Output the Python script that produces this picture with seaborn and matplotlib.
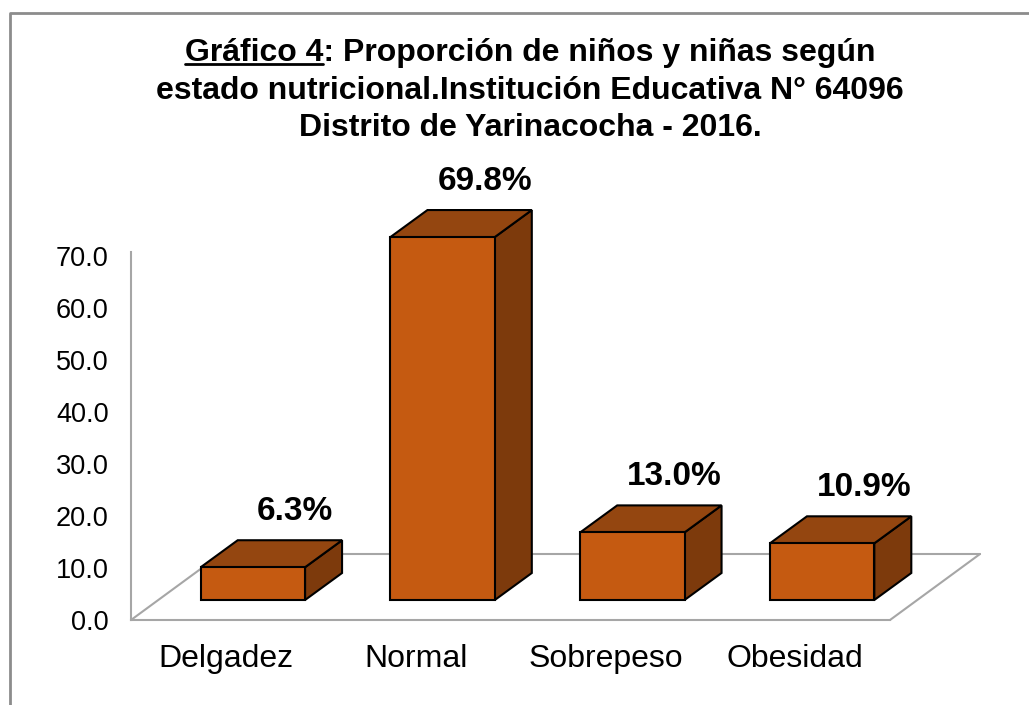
import matplotlib
matplotlib.use("Agg")
import matplotlib.pyplot as plt
from matplotlib.patches import Polygon
from matplotlib.lines import Line2D
from matplotlib.transforms import IdentityTransform
import seaborn as sns
import pandas as pd

# data
categories = ["Delgadez", "Normal", "Sobrepeso", "Obesidad"]
values = [6.3, 69.8, 13.0, 10.9]
labels = ["6.3%", "69.8%", "13.0%", "10.9%"]
yticks = [0, 10, 20, 30, 40, 50, 60, 70]
title_lines = ["Gráfico 4: Proporción de niños y niñas según",
               "estado nutricional.Institución Educativa N° 64096",
               "Distrito de Yarinacocha - 2016."]
underlined = "Gráfico 4"

front_col = "#C55A11"
top_col = "#944610"
side_col = "#7D3A0C"
floor_col = "#a6a6a6"

sns.set_style("white")
plt.rcParams["font.family"] = ["Liberation Sans", "DejaVu Sans"]
plt.rcParams["text.color"] = "black"
plt.rcParams["xtick.color"] = "black"
plt.rcParams["ytick.color"] = "black"

W, H, DPI = 1029, 705, 100
fig = plt.figure(figsize=(W / DPI, H / DPI), dpi=DPI)
ax = fig.add_axes([131 / W, (H - 620) / H, (890 - 131) / W, (620 - 252) / H])

df = pd.DataFrame({"cat": categories, "val": values})
sns.barplot(data=df, x="cat", y="val", color=front_col, width=0.55,
            edgecolor="black", linewidth=1.5, saturation=1, ax=ax, zorder=5)

ax.set_xlim(-0.5, 3.5)
ax.set_ylim(0, 368 / 5.2)
ax.set_yticks(yticks)
ax.set_yticklabels([f"{t:.1f}" for t in yticks], fontsize=19.5)
ax.set_xticks(range(len(categories)))
ax.set_xticklabels(categories, fontsize=23)
ax.tick_params(axis="y", length=0, pad=16)
ax.tick_params(axis="x", length=0, pad=17)
ax.set_xlabel("")
ax.set_ylabel("")
for s in ["top", "right"]:
    ax.spines[s].set_visible(False)
for s in ["left", "bottom"]:
    ax.spines[s].set_color(floor_col)
    ax.spines[s].set_linewidth(1.5)
ax.patch.set_visible(False)

ident = IdentityTransform()
# pixel offsets (display coords, y up)
plane = (27, 20)    # bar front plane behind floor front edge
depth = (37, 27)    # bar depth
floor = (90, 66)    # full floor depth

# floor outline
x0d, y0d = ax.transData.transform((-0.5, 0))
x1d, _ = ax.transData.transform((3.5, 0))
for seg in [[(x0d, y0d), (x0d + floor[0], y0d + floor[1])],
            [(x0d + floor[0], y0d + floor[1]), (x1d + floor[0], y0d + floor[1])],
            [(x1d + floor[0], y0d + floor[1]), (x1d, y0d)]]:
    fig.add_artist(Line2D([p[0] for p in seg], [p[1] for p in seg], transform=ident,
                          color=floor_col, lw=1.5, zorder=1))

# bars: shift fronts, add top and side faces
for i, bar in enumerate(ax.patches):
    bx, bw, bh = bar.get_x(), bar.get_width(), bar.get_height()
    (lx, by) = ax.transData.transform((bx, 0))
    (rx, ty) = ax.transData.transform((bx + bw, bh))
    lx, rx = lx + plane[0], rx + plane[0]
    by, ty = by + plane[1], ty + plane[1]
    bar.remove()
    front = Polygon([(lx, by), (rx, by), (rx, ty), (lx, ty)], closed=True, transform=ident,
                    facecolor=front_col, edgecolor="black", lw=1.5, zorder=6)
    top = Polygon([(lx, ty), (rx, ty), (rx + depth[0], ty + depth[1]), (lx + depth[0], ty + depth[1])],
                  closed=True, transform=ident, facecolor=top_col, edgecolor="black", lw=1.5, zorder=5)
    side = Polygon([(rx, by), (rx + depth[0], by + depth[1]), (rx + depth[0], ty + depth[1]), (rx, ty)],
                   closed=True, transform=ident, facecolor=side_col, edgecolor="black", lw=1.5, zorder=5)
    for p in (side, top, front):
        fig.add_artist(p)
    fig.text((lx + rx) / 2 + 42, ty + 56, labels[i], transform=ident, ha="center", va="center",
             fontsize=24, fontweight="bold", zorder=7)

# outer frame
fig.add_artist(Line2D([10, 10, W], [0, H - 13, H - 13], transform=ident, color="#8c8c8c", lw=2))

# title
ys = [H - 53, H - 91, H - 128]
texts = []
for line, yy in zip(title_lines, ys):
    texts.append(fig.text(530, yy, line, transform=ident, ha="center", va="center",
                          fontsize=23, fontweight="bold"))
fig.canvas.draw()
r = fig.canvas.get_renderer()
bb = texts[0].get_window_extent(r)
tmp = fig.text(bb.x0, ys[0], underlined, transform=ident, ha="left", va="center",
               fontsize=23, fontweight="bold")
ub = tmp.get_window_extent(r)
tmp.remove()
fig.add_artist(Line2D([bb.x0, ub.x1], [bb.y0 + 4, bb.y0 + 4], transform=ident, color="black", lw=2))

fig.savefig("out.png", dpi=DPI)
